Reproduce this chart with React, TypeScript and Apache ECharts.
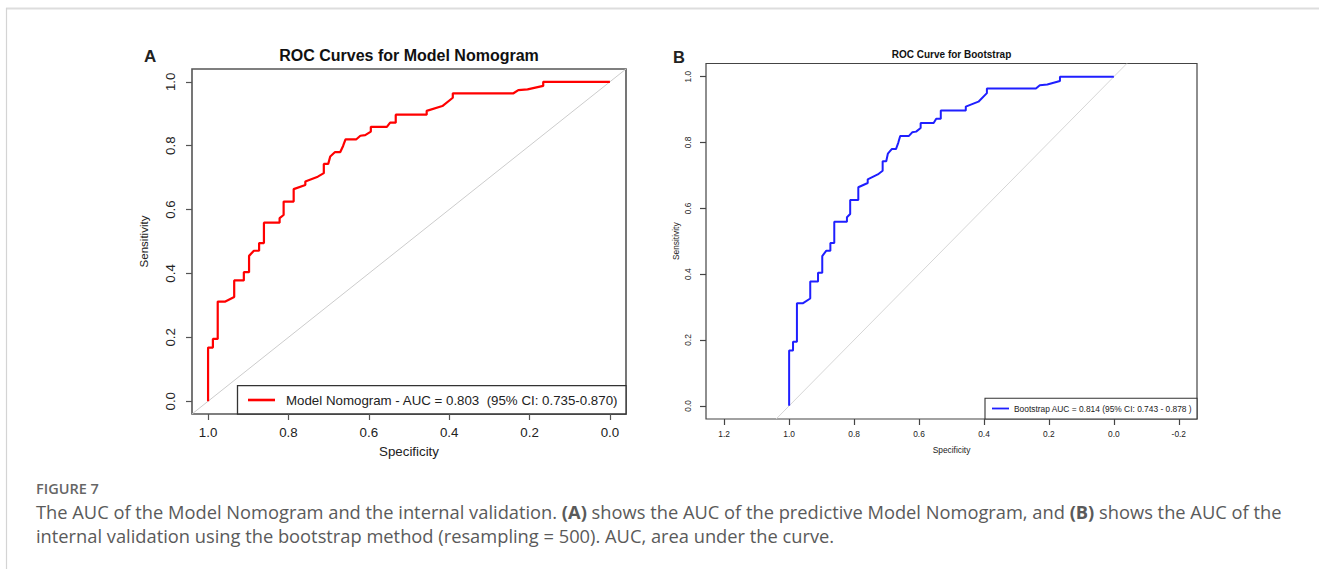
import React, { useEffect, useRef } from "react";
import * as echarts from "echarts";

// ROC operating points of the nomogram (specificity, sensitivity), in step order
const nomogramSpecificity = [
  1.0, 1.0, 0.988, 0.988, 0.976, 0.976, 0.957, 0.935, 0.935, 0.911, 0.911, 0.898, 0.898,
  0.886, 0.873, 0.873, 0.861, 0.861, 0.822, 0.822, 0.812, 0.812, 0.787, 0.787, 0.758,
  0.758, 0.727, 0.712, 0.712, 0.701, 0.696, 0.684, 0.671, 0.664, 0.658, 0.631, 0.621,
  0.609, 0.595, 0.595, 0.555, 0.547, 0.533, 0.533, 0.456, 0.456, 0.417, 0.391, 0.391,
  0.24, 0.228, 0.205, 0.166, 0.166, 0.0,
];
const nomogramSensitivity = [
  0.0, 0.168, 0.168, 0.195, 0.195, 0.312, 0.312, 0.326, 0.378, 0.378, 0.404, 0.404, 0.455,
  0.471, 0.471, 0.495, 0.495, 0.559, 0.559, 0.573, 0.583, 0.625, 0.625, 0.664, 0.677,
  0.688, 0.703, 0.714, 0.743, 0.743, 0.766, 0.78, 0.78, 0.799, 0.82, 0.82, 0.831, 0.833,
  0.844, 0.859, 0.859, 0.872, 0.872, 0.897, 0.897, 0.909, 0.924, 0.95, 0.964, 0.964,
  0.974, 0.976, 0.987, 1.0, 1.0,
];
// The bootstrap curve passes through the same operating points
const bootstrapSpecificity = nomogramSpecificity;
const bootstrapSensitivity = nomogramSensitivity;

// Chance line (sensitivity = 1 - specificity), spanning the padded plot range
const chanceSpecificity = [1.04, -0.04];
const chanceSensitivity = [-0.04, 1.04];

const ticksA_x = [1.0, 0.8, 0.6, 0.4, 0.2, 0.0];
const ticksB_x = [1.2, 1.0, 0.8, 0.6, 0.4, 0.2, 0.0, -0.2];
const ticksY = [0.0, 0.2, 0.4, 0.6, 0.8, 1.0];

const legendA = "Model Nomogram - AUC = 0.803  (95% CI: 0.735-0.870)";
const legendB = "Bootstrap AUC = 0.814 (95% CI: 0.743 - 0.878 )";
const titleA = "ROC Curves for Model Nomogram";
const titleB = "ROC Curve for Bootstrap";
const captionHead = "FIGURE 7";
const captionLine1 =
  "The AUC of the Model Nomogram and the internal validation. {b|(A)} shows the AUC of the predictive Model Nomogram, and {b|(B)} shows the AUC of the";
const captionLine2 =
  "internal validation using the bootstrap method (resampling = 500). AUC, area under the curve.";

const pairs = (xs: number[], ys: number[]) => xs.map((x, i) => [x, ys[i]]);

const SANS = "'Liberation Sans', Arial, sans-serif";
const CAPTION_FONT = "'Open Sans', 'Noto Sans', sans-serif";
const fmt = (v: number) => (Math.abs(v) < 1e-9 ? 0 : v).toFixed(1);

export default function App() {
  const ref = useRef<HTMLDivElement>(null);

  useEffect(() => {
    if (!ref.current) return;
    const chart = echarts.init(ref.current, undefined, { renderer: "svg" });

    const xAxisBase = (
      grid: number,
      min: number,
      max: number,
      ticks: number[],
      fontSize: number,
      gap: number,
      nameSize: number,
      tickColor: string
    ) => ({
      gridIndex: grid,
      type: "value",
      inverse: true,
      min,
      max,
      axisLine: { show: false, onZero: false },
      splitLine: { show: false },
      axisTick: {
        show: true,
        length: 6,
        customValues: ticks,
        lineStyle: { color: tickColor, width: 1.2 },
      },
      axisLabel: {
        customValues: ticks,
        formatter: fmt,
        margin: fontSize > 10 ? 12 : 11,
        fontSize,
        color: "#222",
        fontFamily: SANS,
      },
      name: "Specificity",
      nameLocation: "middle",
      nameGap: gap,
      nameTextStyle: { fontSize: nameSize, color: "#222", fontFamily: SANS },
    });

    const yAxisBase = (
      grid: number,
      fontSize: number,
      margin: number,
      gap: number,
      nameSize: number,
      tickColor: string
    ) => ({
      gridIndex: grid,
      type: "value",
      min: -0.04,
      max: 1.04,
      axisLine: { show: false, onZero: false },
      splitLine: { show: false },
      axisTick: {
        show: true,
        length: 6,
        customValues: ticksY,
        lineStyle: { color: tickColor, width: 1.2 },
      },
      axisLabel: {
        customValues: ticksY,
        formatter: fmt,
        rotate: 90,
        margin,
        fontSize,
        color: "#222",
        fontFamily: SANS,
      },
      name: "Sensitivity",
      nameLocation: "middle",
      nameRotate: 90,
      nameGap: gap,
      nameTextStyle: { fontSize: nameSize, color: "#222", fontFamily: SANS },
    });

    const option: any = {
      animation: false,
      backgroundColor: "#ffffff",
      grid: [
        { left: 192, top: 69, width: 434, height: 345, show: true, borderColor: "#555", borderWidth: 1.6 },
        { left: 706, top: 63.5, width: 491, height: 355.5, show: true, borderColor: "#444", borderWidth: 1.2 },
      ],
      xAxis: [
        xAxisBase(0, -0.04, 1.04, ticksA_x, 13.3, 31, 13.3, "#555"),
        xAxisBase(1, -0.256, 1.256, ticksB_x, 8.4, 27, 8.4, "#444"),
      ],
      yAxis: [yAxisBase(0, 13.3, 15, 42, 11.5, "#555"), yAxisBase(1, 8.4, 14, 26, 8.4, "#444")],
      series: [
        {
          type: "line",
          xAxisIndex: 0,
          yAxisIndex: 0,
          data: pairs(chanceSpecificity, chanceSensitivity),
          symbol: "none",
          silent: true,
          lineStyle: { color: "#cccccc", width: 1 },
        },
        {
          type: "line",
          name: "Model Nomogram",
          xAxisIndex: 0,
          yAxisIndex: 0,
          data: pairs(nomogramSpecificity, nomogramSensitivity),
          symbol: "none",
          lineStyle: { color: "#ff0000", width: 2.2 },
        },
        {
          type: "line",
          xAxisIndex: 1,
          yAxisIndex: 1,
          data: pairs(chanceSpecificity, chanceSensitivity),
          symbol: "none",
          silent: true,
          lineStyle: { color: "#d6d6d6", width: 1 },
        },
        {
          type: "line",
          name: "Bootstrap",
          xAxisIndex: 1,
          yAxisIndex: 1,
          data: pairs(bootstrapSpecificity, bootstrapSensitivity),
          symbol: "none",
          lineStyle: { color: "#1f1fff", width: 2 },
        },
      ],
      graphic: [
        // page frame
        { type: "line", shape: { x1: 6, y1: 8.5, x2: 1319, y2: 8.5 }, style: { stroke: "#dddddd", lineWidth: 2 } },
        { type: "line", shape: { x1: 6.5, y1: 8, x2: 6.5, y2: 569 }, style: { stroke: "#d4d4d4", lineWidth: 1.2 } },
        // panel letters and titles
        { type: "text", x: 144, y: 56, style: { text: "A", font: `bold 17px ${SANS}`, fill: "#222", verticalAlign: "middle" } },
        { type: "text", x: 673, y: 57, style: { text: "B", font: `bold 16.5px ${SANS}`, fill: "#222", verticalAlign: "middle" } },
        { type: "text", x: 409, y: 55.5, style: { text: titleA, font: `bold 16px ${SANS}`, fill: "#111", align: "center", verticalAlign: "middle" } },
        { type: "text", x: 951.5, y: 54.5, style: { text: titleB, font: `bold 10px ${SANS}`, fill: "#111", align: "center", verticalAlign: "middle" } },
        // legend A
        {
          type: "group",
          children: [
            { type: "rect", shape: { x: 237.5, y: 385.7, width: 388.5, height: 28.3 }, style: { fill: "#fff", stroke: "#333", lineWidth: 1.3 } },
            { type: "line", shape: { x1: 248, y1: 400, x2: 275, y2: 400 }, style: { stroke: "#ff0000", lineWidth: 2.6 } },
            { type: "text", x: 286, y: 400.5, style: { text: legendA, font: `13.3px ${SANS}`, fill: "#222", verticalAlign: "middle" } },
          ],
        },
        // legend B
        {
          type: "group",
          children: [
            { type: "rect", shape: { x: 985, y: 398.3, width: 212, height: 20.7 }, style: { fill: "#fff", stroke: "#333", lineWidth: 1.1 } },
            { type: "line", shape: { x1: 992, y1: 408.5, x2: 1009, y2: 408.5 }, style: { stroke: "#1f1fff", lineWidth: 1.8 } },
            { type: "text", x: 1014, y: 409, style: { text: legendB, font: `8.4px ${SANS}`, fill: "#222", verticalAlign: "middle" } },
          ],
        },
        // caption
        { type: "text", x: 36, y: 488, style: { text: captionHead, font: `600 14.5px ${CAPTION_FONT}`, fill: "#666", verticalAlign: "middle" } },
        {
          type: "text",
          x: 36,
          y: 511,
          style: {
            text: captionLine1,
            font: `18.3px ${CAPTION_FONT}`,
            fill: "#5a5a5a",
            verticalAlign: "middle",
            rich: { b: { fontWeight: "bold", fontSize: 18.3, fontFamily: CAPTION_FONT, fill: "#5a5a5a" } },
          },
        },
        { type: "text", x: 36, y: 535, style: { text: captionLine2, font: `18.3px ${CAPTION_FONT}`, fill: "#5a5a5a", verticalAlign: "middle" } },
      ],
    };

    chart.setOption(option);
    return () => chart.dispose();
  }, []);

  return (
    <div
      ref={ref}
      style={{ position: "absolute", left: 0, top: 0, width: 1319, height: 569, background: "#fff" }}
    />
  );
}
